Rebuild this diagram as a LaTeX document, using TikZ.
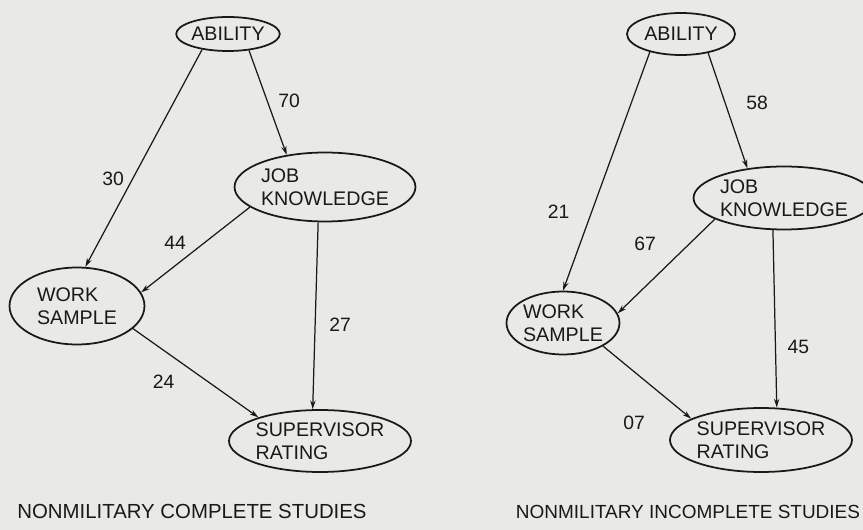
\documentclass[tikz,border=0pt]{standalone}
\usepackage{fontspec}
\setmainfont{Liberation Sans}
\usetikzlibrary{shapes.geometric,arrows.meta}
\definecolor{paper}{RGB}{233,233,230}
\definecolor{ink}{RGB}{25,25,25}

\begin{document}
\begin{tikzpicture}[x=0.02cm,y=-0.02cm,>={Stealth[length=5pt,width=3pt]},color=ink]

        \fill[paper] (0,0) rectangle (863,530);
        \useasboundingbox (0,0) rectangle (863,530);

        \begin{scope}[every node/.style={ellipse,draw,line width=1pt,inner sep=0pt,align=left,
            font=\fontsize{11.2}{12.8}\selectfont}]
          % complete studies
          \node[minimum width=2cm,minimum height=0.68cm]   (a1) at (228,34)  {ABILITY};
          \node[minimum width=3.3cm,minimum height=1.38cm] (j1) at (325,187) {JOB\\KNOWLEDGE};
          \node[minimum width=2.7cm,minimum height=1.54cm] (w1) at (77,306)  {WORK\\SAMPLE};
          \node[minimum width=3.2cm,minimum height=1.24cm] (s1) at (320,441) {SUPERVISOR\\RATING};
          % incomplete studies
          \node[minimum width=2.16cm,minimum height=0.84cm] (a2) at (681,34)  {ABILITY};
          \node[minimum width=3.12cm,minimum height=1.26cm] (j2) at (784,198) {JOB\\KNOWLEDGE};
          \node[minimum width=2.26cm,minimum height=1.26cm] (w2) at (563,323) {WORK\\SAMPLE};
          \node[minimum width=3.24cm,minimum height=1.28cm] (s2) at (761,440) {SUPERVISOR\\RATING};
        \end{scope}

        \begin{scope}[every node/.style={inner sep=0pt,font=\fontsize{11}{13}\selectfont}]

          \begin{scope}[every edge/.style={draw,->,line width=.7pt}]
            \path (a1.-38)  edge node[pos=.48,shift={(22,0)}]   {70} (j1.140);
            \path (a1.211)  edge node[pos=.6,shift={(-19,-1)}]  {30} (w1.78);
            \path (j1.195)  edge node[pos=.55,shift={(-15,-11)}] {44} (w1.12);
            \path (j1.259)  edge node[pos=.55,shift={(25,0)}]   {27} (s1.103);
            \path (w1.-22)  edge node[pos=.3,shift={(-7,27)}]   {24} (s1.159);

            \path (a2.-35)  edge node[pos=.43,shift={(32,0)}]   {58} (j2.141);
            \path (a2.210)  edge node[pos=.67,shift={(-33,0)}]  {21} (w2.90);
            \path (j2.197)  edge node[pos=.45,shift={(-26,-18)}] {67} (w2.10);
            \path (j2.251)  edge node[pos=.66,shift={(23,0)}]   {45} (s2.64);
            \path (w2.-30)  edge node[pos=.5,shift={(-13,40)}]  {07} (s2.163);
          \end{scope}
        \end{scope}

        \node[inner sep=0pt,font=\fontsize{11.6}{13}\selectfont] (c1) at (192,511) {NONMILITARY COMPLETE STUDIES};
        \node[inner sep=0pt,font=\fontsize{10.8}{13}\selectfont] (c2) at (688,512) {NONMILITARY INCOMPLETE STUDIES};

      \end{tikzpicture}
\end{document}
